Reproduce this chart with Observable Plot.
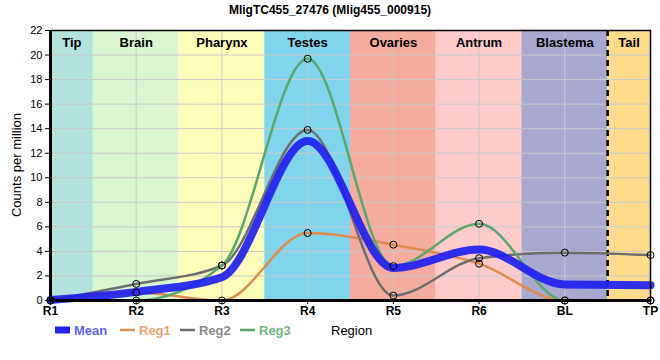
<!DOCTYPE html>
<html>
<head>
<meta charset="utf-8">
<script src="https://cdn.jsdelivr.net/npm/d3@7"></script>
<script src="https://cdn.jsdelivr.net/npm/@observablehq/plot@0.6"></script>
<style>
  html, body { margin: 0; padding: 0; background: #fff; }
  body { font-family: "Liberation Sans", Arial, sans-serif; }
</style>
</head>
<body>
<div id="chart"></div>
<script>
const title = "MligTC455_27476 (Mlig455_000915)";
const regions = ["R1", "R2", "R3", "R4", "R5", "R6", "BL", "TP"];
const meanVals = [0.05, 0.7, 1.9, 13.0, 2.65, 4.15, 1.3, 1.25];
const reg1 = [0, 0.65, 0, 5.5, 4.55, 3.0, 0, 0];
const reg2 = [0, 1.35, 2.85, 13.9, 0.4, 3.45, 3.9, 3.7];
const reg3 = [0, 0, 2.85, 19.7, 2.8, 6.25, 0, 0];
const seriesNames = ["Mean", "Reg1", "Reg2", "Reg3"];
const seriesColors = ["#2020f0", "#e08c4c", "#6e6e6e", "#5aa76c"];
const legendTextColors = ["#6464ff", "#e8a272", "#8a8a8a", "#74b686"];
const bandNames = ["Tip", "Brain", "Pharynx", "Testes", "Ovaries", "Antrum", "Blastema", "Tail"];
const bandStart = [0, 0.5, 1.5, 2.5, 3.5, 4.5, 5.5, 6.5];
const bandEnd = [0.5, 1.5, 2.5, 3.5, 4.5, 5.5, 6.5, 7];
const bandColors = ["#b4e3de", "#d9f6d1", "#fefeba", "#80d4ec", "#f4ac9e", "#fecbcb", "#a9a8cf", "#fedc8c"];
const yTicks = [0, 2, 4, 6, 8, 10, 12, 14, 16, 18, 20, 22];
const tailDivider = [6.5];

const bands = bandNames.map((n, i) => ({name: n, x1: bandStart[i], x2: bandEnd[i], color: bandColors[i]}));
const regSeries = [reg1, reg2, reg3];
const regRows = regSeries.flatMap((vals, s) =>
  vals.map((v, i) => ({series: seriesNames[s + 1], i, v})));
const meanRows = meanVals.map((v, i) => ({i, v}));
const font = "'Liberation Sans', Arial, sans-serif";

const plot = Plot.plot({
  width: 660,
  height: 360,
  marginTop: 30,
  marginBottom: 60,
  marginLeft: 50,
  marginRight: 10,
  style: {fontFamily: font, background: "white", color: "black"},
  x: {domain: [0, 7]},
  y: {domain: [0, 22]},
  marks: [
    Plot.rect(bands, {x1: "x1", x2: "x2", y1: 0, y2: 22, fill: "color"}),
    Plot.gridX(d3.range(1, 7), {stroke: "#c9c9c9", strokeOpacity: 1, strokeWidth: 1}),
    Plot.gridY(yTicks, {stroke: "#c9c9c9", strokeOpacity: 1, strokeWidth: 1}),
    Plot.ruleX(tailDivider, {stroke: "black", strokeWidth: 2.5, strokeDasharray: "6,4"}),
    Plot.line(regRows, {x: "i", y: "v", z: "series", stroke: d => seriesColors[seriesNames.indexOf(d.series)], curve: "monotone-x", strokeWidth: 2.5}),
    Plot.line(meanRows, {x: "i", y: "v", stroke: seriesColors[0], strokeOpacity: 0.92, curve: "monotone-x", strokeWidth: 8}),
    Plot.frame({stroke: "black", strokeWidth: 1.5}),
    Plot.ruleX([0], {stroke: "black", strokeWidth: 3}),
    Plot.ruleY([0], {stroke: "black", strokeWidth: 3}),
    Plot.dot(regRows, {x: "i", y: "v", r: 3.5, stroke: "black", strokeWidth: 1, fill: "none"}),
    Plot.text(bands, {x: d => (d.x1 + d.x2) / 2, y: 22, dy: 12, text: "name", fontWeight: "bold", fontSize: 13, fill: "black"}),
    Plot.axisX({ticks: d3.range(0, 8), tickFormat: i => regions[i], tickSize: 4, tickPadding: 2, fontSize: 12, fontWeight: "bold", label: null}),
    Plot.axisY({ticks: yTicks, tickSize: 5, tickPadding: 3, fontSize: 11, label: null})
  ]
});

const svg = d3.select(plot);
svg.append("text").attr("x", 330).attr("y", 14)
  .style("text-anchor", "middle").style("font-family", font).style("font-size", "12px").style("font-weight", "bold")
  .text(title);
svg.append("text").attr("transform", "translate(21,165) rotate(-90)")
  .style("text-anchor", "middle").style("font-family", font).style("font-size", "13px")
  .text("Counts per million");

const legendX = [55, 120, 180, 240];
seriesNames.forEach((name, k) => {
  const x = legendX[k];
  svg.append("line").attr("x1", x).attr("x2", x + 15).attr("y1", 330).attr("y2", 330)
    .attr("stroke", seriesColors[k]).attr("stroke-width", k === 0 ? 7 : 2.5);
  svg.append("text").attr("x", x + 19).attr("y", 335)
    .style("text-anchor", "start").style("font-family", font).style("font-size", "13px").style("font-weight", "bold")
    .style("fill", legendTextColors[k]).text(name);
});
svg.append("text").attr("x", 331).attr("y", 335)
  .style("text-anchor", "start").style("font-family", font).style("font-size", "13px").style("fill", "black")
  .text("Region");

document.getElementById("chart").appendChild(plot);
</script>
</body>
</html>
